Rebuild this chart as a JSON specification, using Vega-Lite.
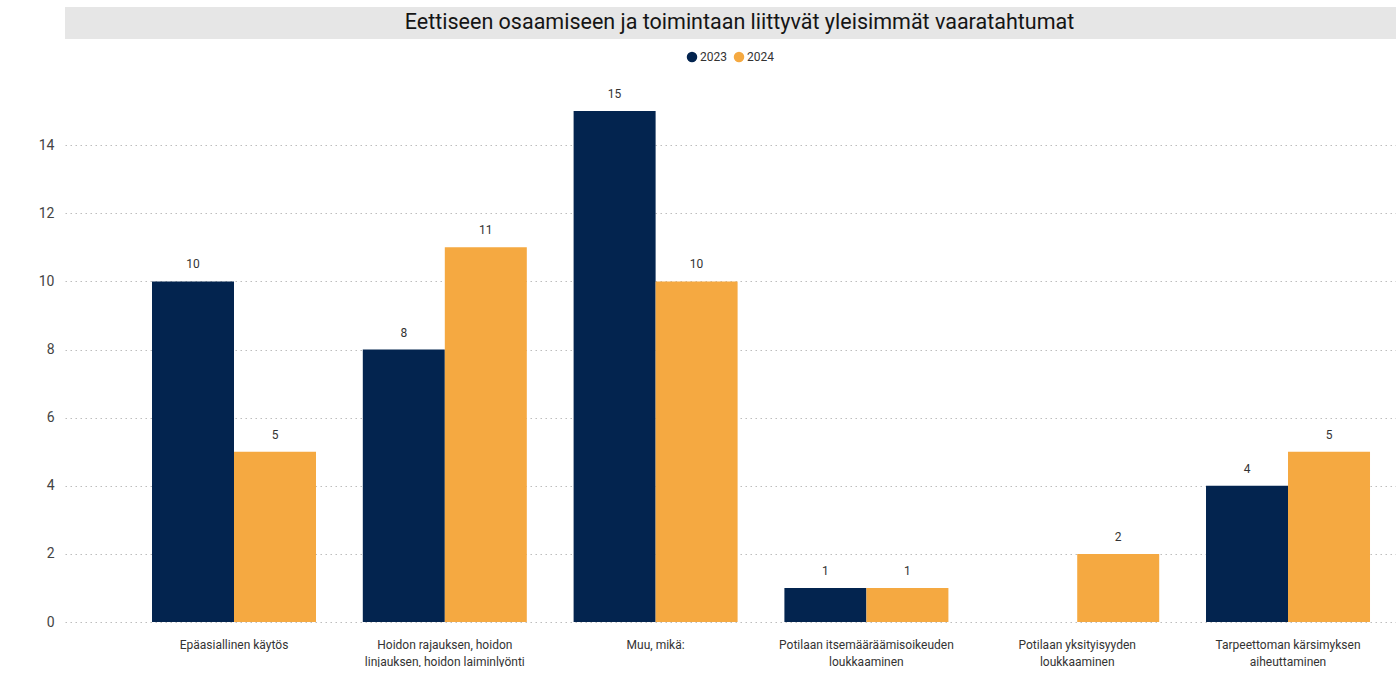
{
  "$schema": "https://vega.github.io/schema/vega-lite/v6.json",
  "background": "white",
  "padding": {"left": 12, "top": 7, "right": 0, "bottom": 0},
  "config": {
    "font": "Roboto",
    "view": {"stroke": null}
  },
  "columns": 1,
  "align": "none",
  "spacing": 12,
  "resolve": {"scale": {"color": "independent"}, "legend": {"color": "independent"}},
  "concat": [
    {
      "width": 1331,
      "height": 32,
      "view": {"fill": "#e6e6e6", "stroke": null},
      "data": {"values": [{"otsikko": "Eettiseen osaamiseen ja toimintaan liittyvät yleisimmät vaaratahtumat"}]},
      "mark": {"type": "text", "fontSize": 21.5, "color": "#151515", "align": "center", "baseline": "middle", "font": "Roboto", "dx": 9},
      "encoding": {"text": {"field": "otsikko", "type": "nominal"}}
    },
    {
      "width": 1331,
      "height": 545,
      "data": {
        "values": [
          {"kategoria": "Epäasiallinen käytös", "vuosi": "2023", "maara": 10},
          {"kategoria": "Epäasiallinen käytös", "vuosi": "2024", "maara": 5},
          {"kategoria": "Hoidon rajauksen, hoidon linjauksen, hoidon laiminlyönti", "vuosi": "2023", "maara": 8},
          {"kategoria": "Hoidon rajauksen, hoidon linjauksen, hoidon laiminlyönti", "vuosi": "2024", "maara": 11},
          {"kategoria": "Muu, mikä:", "vuosi": "2023", "maara": 15},
          {"kategoria": "Muu, mikä:", "vuosi": "2024", "maara": 10},
          {"kategoria": "Potilaan itsemääräämisoikeuden loukkaaminen", "vuosi": "2023", "maara": 1},
          {"kategoria": "Potilaan itsemääräämisoikeuden loukkaaminen", "vuosi": "2024", "maara": 1},
          {"kategoria": "Potilaan yksityisyyden loukkaaminen", "vuosi": "2024", "maara": 2},
          {"kategoria": "Tarpeettoman kärsimyksen aiheuttaminen", "vuosi": "2023", "maara": 4},
          {"kategoria": "Tarpeettoman kärsimyksen aiheuttaminen", "vuosi": "2024", "maara": 5}
        ]
      },
      "encoding": {
        "x": {
          "field": "kategoria",
          "type": "nominal",
          "sort": null,
          "scale": {"paddingInner": 0.222, "paddingOuter": 0.268, "align": 0.77},
          "axis": {
            "title": null,
            "labelAngle": 0,
            "domain": false,
            "ticks": false,
            "labelPadding": 17,
            "labelFontSize": 12,
            "labelColor": "#333333",
            "labelLimit": 300,
            "labelLineHeight": 17,
            "labelExpr": "datum.label == 'Hoidon rajauksen, hoidon linjauksen, hoidon laiminlyönti' ? ['Hoidon rajauksen, hoidon', 'linjauksen, hoidon laiminlyönti'] : datum.label == 'Potilaan itsemääräämisoikeuden loukkaaminen' ? ['Potilaan itsemääräämisoikeuden', 'loukkaaminen'] : datum.label == 'Potilaan yksityisyyden loukkaaminen' ? ['Potilaan yksityisyyden', 'loukkaaminen'] : datum.label == 'Tarpeettoman kärsimyksen aiheuttaminen' ? ['Tarpeettoman kärsimyksen', 'aiheuttaminen'] : datum.label"
          }
        },
        "xOffset": {"field": "vuosi", "type": "nominal", "scale": {"domain": ["2023", "2024"], "paddingInner": 0, "paddingOuter": 0}},
        "y": {
          "field": "maara",
          "type": "quantitative",
          "scale": {"domain": [0, 16], "nice": false},
          "axis": {
            "title": null,
            "values": [0, 2, 4, 6, 8, 10, 12, 14],
            "domain": false,
            "ticks": false,
            "grid": true,
            "gridDash": [1.5, 3.5],
            "gridColor": "#bdbdbd",
            "gridWidth": 1,
            "labelPadding": 11,
            "labelFontSize": 14,
            "labelColor": "#444444",
            "minExtent": 53
          }
        }
      },
      "layer": [
        {
          "mark": {"type": "bar"},
          "encoding": {
            "color": {
              "field": "vuosi",
              "type": "nominal",
              "scale": {"domain": ["2023", "2024"], "range": ["#03244f", "#f5a941"]},
              "legend": {
                "title": null,
                "orient": "none",
                "legendX": 621,
                "legendY": -26,
                "direction": "horizontal",
                "symbolType": "circle",
                "symbolSize": 110,
                "symbolStrokeWidth": 0,
                "labelFontSize": 12,
                "labelColor": "#333333",
                "labelOffset": 2,
                "columnPadding": 6
              }
            }
          }
        },
        {
          "mark": {"type": "text", "baseline": "bottom", "dy": -10, "fontSize": 12, "color": "#333333"},
          "encoding": {"text": {"field": "maara", "type": "quantitative"}}
        }
      ]
    }
  ]
}
